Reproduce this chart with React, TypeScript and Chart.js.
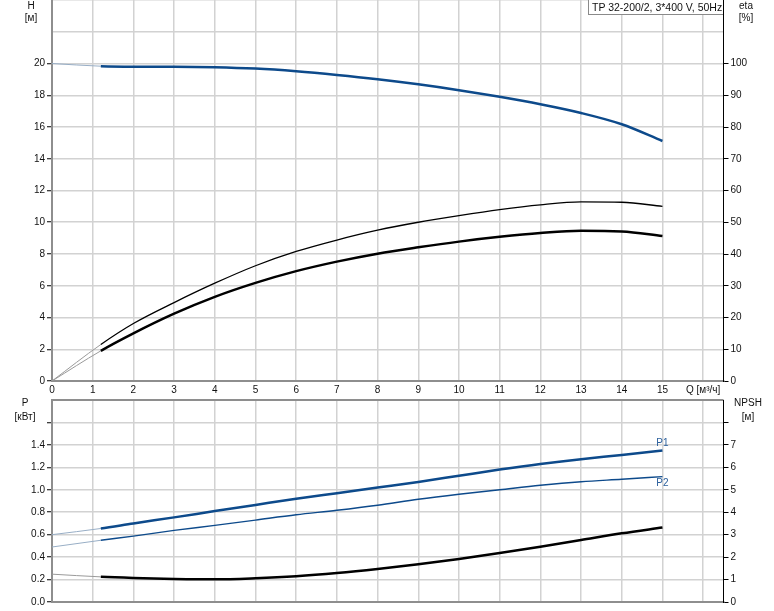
import React, { useEffect, useRef } from "react";
import { Chart, registerables } from "chart.js";

Chart.register(...registerables);

// ---------- data ----------
const Q = [0, 1.2, 2, 3, 4, 5, 6, 7, 8, 9, 10, 11, 12, 13, 14, 15];
const H = [20.0, 19.83, 19.8, 19.8, 19.77, 19.68, 19.51, 19.28, 19.01, 18.69, 18.32, 17.9, 17.43, 16.88, 16.17, 15.12];
const ETA_UPPER = [0, 11.5, 18.1, 24.7, 30.8, 36.3, 40.8, 44.4, 47.5, 50.0, 52.1, 54.0, 55.5, 56.4, 56.3, 55.0];
const ETA_LOWER = [0, 9.5, 15.0, 21.2, 26.5, 30.9, 34.6, 37.6, 40.1, 42.1, 43.9, 45.4, 46.6, 47.3, 47.1, 45.7];
const P1 = [0.6, 0.655, 0.7, 0.754, 0.81, 0.865, 0.92, 0.97, 1.02, 1.07, 1.125, 1.18, 1.23, 1.273, 1.31, 1.35];
const P2 = [0.49, 0.55, 0.587, 0.638, 0.683, 0.73, 0.777, 0.817, 0.862, 0.915, 0.96, 1.0, 1.04, 1.072, 1.094, 1.117];
const NPSH = [1.24, 1.12, 1.07, 1.03, 1.01, 1.06, 1.15, 1.29, 1.47, 1.68, 1.92, 2.18, 2.46, 2.76, 3.06, 3.32];

const SERIES_LABELS = ["P1", "P2"];
const TITLE = "TP 32-200/2, 3*400 V, 50Hz";
const Q_LABEL = "Q [м³/ч]";
const Q_LABEL_AT = 16;
const Q_MAX = 16.5;
const H_MAX = 24;
const H_LAST_LABEL = 20;
const ETA_MAX = 120;
const ETA_LAST_LABEL = 100;
const P_MAX = 1.8;
const P_LAST_LABEL = 1.4;
const P_LAST_TICK = 1.6;
const NPSH_MAX = 9;
const NPSH_LAST_LABEL = 7;
const NPSH_LAST_TICK = 8;
const DUTY_START = 1.2;

// ---------- styles ----------
const FONT_FAMILY = "'Liberation Sans', Arial, sans-serif";
const TICK_FONT = { family: FONT_FAMILY, size: 10 };
const TEXT = "#111111";
const BLUE = "#0d4a8b";
const BLUE_THIN = "#98aec6";
const BLACK = "#000000";
const BLACK_THIN = "#9a9a9a";
const GRID = "#d2d2d2";
const AXIS_GREY = "#8e8e8e";

Chart.defaults.font.family = FONT_FAMILY;

const pts = (ys: number[]) => Q.map((x, i) => ({ x, y: ys[i] }));

const dutySegment = (thick: number, color: string, thinColor: string, thin = 1) => ({
  borderWidth: (c: any) => (c.p0.parsed.x < DUTY_START - 1e-6 ? thin : thick),
  borderColor: (c: any) => (c.p0.parsed.x < DUTY_START - 1e-6 ? thinColor : color),
});

const lineDs = (ys: number[], axis: string, color: string, width: number, seg: any) => ({
  data: pts(ys),
  yAxisID: axis,
  borderColor: color,
  borderWidth: width,
  pointRadius: 0,
  fill: false,
  cubicInterpolationMode: "monotone" as const,
  segment: seg,
});

const baseX = (showLabels: boolean) => ({
  type: "linear" as const,
  min: 0,
  max: Q_MAX,
  ticks: {
    display: showLabels,
    stepSize: 1,
    includeBounds: false,
    autoSkip: false,
    maxRotation: 0,
    font: TICK_FONT,
    color: TEXT,
    padding: 3,
    callback: (v: any) => (v === Q_LABEL_AT ? Q_LABEL : String(v)),
  },
  grid: { color: GRID, lineWidth: 1.5, drawTicks: false },
  border: { color: AXIS_GREY, width: 2 },
});

const leftAxis = (max: number, step: number, lastLabel: number, lastTick: number, fmt: (v: number) => string, topGrid: string) => ({
  type: "linear" as const,
  position: "left" as const,
  min: 0,
  max,
  ticks: {
    stepSize: step,
    font: TICK_FONT,
    color: TEXT,
    padding: 2,
    callback: (v: any) => (v > lastLabel + 1e-6 ? "" : fmt(v)),
  },
  grid: {
    color: (c: any) => (c.tick && Math.abs(c.tick.value - max) < 1e-6 ? topGrid : GRID),
    lineWidth: (c: any) => (c.tick && Math.abs(c.tick.value - max) < 1e-6 && topGrid !== GRID ? 2 : 1.5),
    tickColor: (c: any) => (c.tick && c.tick.value > lastTick + 1e-6 ? "rgba(0,0,0,0)" : BLACK),
    tickLength: 5,
    tickWidth: 1,
  },
  border: { color: AXIS_GREY, width: 2 },
  afterFit: (s: any) => {
    s.width = 52;
  },
});

const rightAxis = (max: number, step: number, lastLabel: number, lastTick: number) => ({
  type: "linear" as const,
  position: "right" as const,
  min: 0,
  max,
  ticks: {
    stepSize: step,
    font: TICK_FONT,
    color: TEXT,
    padding: 2,
    callback: (v: any) => (v > lastLabel + 1e-6 ? "" : String(v)),
  },
  grid: {
    drawOnChartArea: false,
    tickColor: (c: any) => (c.tick && c.tick.value > lastTick + 1e-6 ? "rgba(0,0,0,0)" : BLACK),
    tickLength: 5,
    tickWidth: 1,
  },
  border: { color: BLACK, width: 1 },
  afterFit: (s: any) => {
    s.width = 50.5;
  },
});

const commonOptions = {
  responsive: false,
  maintainAspectRatio: false,
  animation: false as const,
  layout: { padding: 0 },
  plugins: { legend: { display: false }, tooltip: { enabled: false } },
  elements: { point: { radius: 0 } },
};

const topConfig = (): any => ({
  type: "line",
  data: {
    datasets: [
      lineDs(ETA_UPPER, "yE", BLACK, 1.3, dutySegment(1.3, BLACK, BLACK_THIN)),
      lineDs(ETA_LOWER, "yE", BLACK, 2.5, dutySegment(2.5, BLACK, BLACK_THIN)),
      lineDs(H, "yH", BLUE, 2.5, dutySegment(2.5, BLUE, BLUE_THIN)),
    ],
  },
  options: {
    ...commonOptions,
    scales: {
      x: baseX(true),
      yH: leftAxis(H_MAX, 2, H_LAST_LABEL, H_LAST_LABEL, (v) => String(v), GRID),
      yE: rightAxis(ETA_MAX, 10, ETA_LAST_LABEL, ETA_LAST_LABEL),
    },
  },
});

const seriesLabelPlugin = {
  id: "seriesLabels",
  afterDatasetsDraw(chart: any) {
    const { ctx, scales } = chart;
    const last = Q.length - 1;
    const x = scales.x.getPixelForValue(Q[last]);
    const y1 = scales.yP.getPixelForValue(P1[last]);
    const y2 = scales.yP.getPixelForValue(P2[last]);
    ctx.save();
    ctx.font = `10px ${FONT_FAMILY}`;
    ctx.fillStyle = "#2b5f9c";
    ctx.textAlign = "center";
    ctx.textBaseline = "middle";
    ctx.fillText(SERIES_LABELS[0], x, y1 - 7);
    ctx.fillText(SERIES_LABELS[1], x, y2 + 7);
    ctx.restore();
  },
};

const bottomConfig = (): any => ({
  type: "line",
  data: {
    datasets: [
      lineDs(NPSH, "yN", BLACK, 2.5, dutySegment(2.5, BLACK, BLACK_THIN)),
      lineDs(P2, "yP", BLUE, 1.4, dutySegment(1.4, BLUE, BLUE_THIN)),
      lineDs(P1, "yP", BLUE, 2.5, dutySegment(2.5, BLUE, BLUE_THIN)),
    ],
  },
  options: {
    ...commonOptions,
    scales: {
      x: baseX(false),
      yP: leftAxis(P_MAX, 0.2, P_LAST_LABEL, P_LAST_TICK, (v) => v.toFixed(1), AXIS_GREY),
      yN: rightAxis(NPSH_MAX, 1, NPSH_LAST_LABEL, NPSH_LAST_TICK),
    },
  },
  plugins: [seriesLabelPlugin],
});

function buildFitted(
  canvas: HTMLCanvasElement,
  width: number,
  initH: number,
  config: () => any,
  targetTop: number,
  targetBottom: number
) {
  const setSize = (h: number) => {
    canvas.width = width;
    canvas.height = h;
    canvas.style.width = `${width}px`;
    canvas.style.height = `${h}px`;
  };
  setSize(initH);
  let chart = new Chart(canvas, config());
  const have = chart.chartArea.bottom - chart.chartArea.top;
  const want = targetBottom - targetTop;
  if (Math.abs(have - want) > 0.01) {
    chart.destroy();
    setSize(Math.round(initH + want - have));
    chart = new Chart(canvas, config());
  }
  canvas.style.top = `${targetTop - chart.chartArea.top}px`;
  return chart;
}

const labelStyle = (cx: number, cy: number): React.CSSProperties => ({
  position: "absolute",
  left: cx,
  top: cy,
  transform: "translate(-50%, -50%)",
  fontFamily: FONT_FAMILY,
  fontSize: 10,
  lineHeight: 1,
  color: TEXT,
  whiteSpace: "nowrap",
});

export default function App() {
  const topRef = useRef<HTMLCanvasElement>(null);
  const botRef = useRef<HTMLCanvasElement>(null);

  useEffect(() => {
    const c1 = buildFitted(topRef.current!, 774, 400, topConfig, 0, 381);
    const c2 = buildFitted(botRef.current!, 774, 215, bottomConfig, 400, 602);
    return () => {
      c1.destroy();
      c2.destroy();
    };
  }, []);

  return (
    <div
      style={{
        position: "absolute",
        left: 0,
        top: 0,
        width: 774,
        height: 611,
        overflow: "hidden",
        background: "#ffffff",
      }}
    >
      <canvas ref={topRef} style={{ position: "absolute", left: 0, top: 0 }} />
      <canvas ref={botRef} style={{ position: "absolute", left: 0, top: 390 }} />
      <div style={labelStyle(31, 6)}>H</div>
      <div style={labelStyle(31, 18)}>[м]</div>
      <div style={labelStyle(746, 6)}>eta</div>
      <div style={labelStyle(746, 18)}>[%]</div>
      <div style={labelStyle(25, 403)}>P</div>
      <div style={labelStyle(25, 417)}>[кВт]</div>
      <div style={labelStyle(748, 403)}>NPSH</div>
      <div style={labelStyle(748, 417)}>[м]</div>
      <div
        style={{
          position: "absolute",
          left: 588,
          top: -1,
          width: 135,
          height: 16,
          boxSizing: "border-box",
          border: "1px solid #8a8a8a",
          borderRight: "none",
          background: "#ffffff",
          fontFamily: FONT_FAMILY,
          fontSize: 10.5,
          lineHeight: "15px",
          paddingLeft: 3,
          color: TEXT,
          whiteSpace: "nowrap",
          overflow: "hidden",
        }}
      >
        {TITLE}
      </div>
    </div>
  );
}
